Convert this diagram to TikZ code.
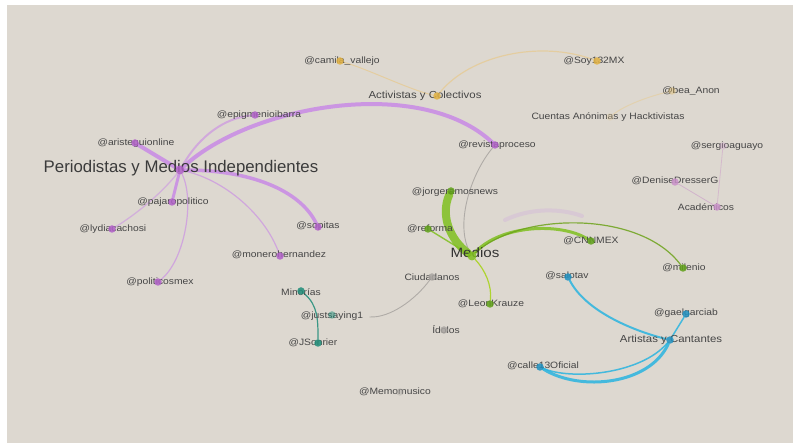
\documentclass[tikz,border=0pt]{standalone}
\usepackage{fontspec}
\setmainfont{Liberation Sans}
\newfontfamily\lblfont[FakeStretch=1.12]{Liberation Sans}
\usetikzlibrary{backgrounds}
\pgfdeclarelayer{edgelayer}
\pgfdeclarelayer{labellayer}
\pgfsetlayers{background,edgelayer,labellayer,main}
\definecolor{bg}{HTML}{DDD8D0}
\definecolor{txt}{HTML}{464646}
\definecolor{purp}{HTML}{C98AE6}
\definecolor{purpd}{HTML}{B060C8}
\definecolor{grn}{HTML}{80C020}
\definecolor{grnd}{HTML}{5FA018}
\definecolor{teal}{HTML}{1E8C78}
\definecolor{blu}{HTML}{2AB4E0}
\definecolor{blud}{HTML}{1E90C0}
\definecolor{org}{HTML}{E0B040}
\definecolor{tan}{HTML}{E6CC98}
\definecolor{pink}{HTML}{C890C8}
\definecolor{gry}{HTML}{A8A4A0}
\tikzset{
  lbl/.style={text=txt, inner sep=0pt, font=\lblfont\fontsize{9.2}{10}\selectfont},
  biglbl/.style={text=txt!85!black, inner sep=0pt, font=\fontsize{16.8}{19}\selectfont},
  medlbl/.style={text=txt, inner sep=0pt, font=\lblfont\fontsize{10.2}{12}\selectfont},
  dot/.style={circle, inner sep=0pt, minimum size=7.5pt, fill=#1, opacity=0.85},
  edge/.style={line cap=round, opacity=0.85},
}
\begin{document}
\begin{tikzpicture}[x=1pt,y=-1pt]
\useasboundingbox (0,0) rectangle (793,443);
\begin{pgfonlayer}{background}
\fill[white] (0,0) rectangle (793,443);
\fill[bg] (7,5) rectangle (793,443);
\end{pgfonlayer}

% ---------- dots (positions) ----------
\node[dot=purpd, minimum size=9pt] (peri) at (180,170) {};
\node[dot=purpd] (epig) at (255,115) {};
\node[dot=purpd] (aris) at (135,143) {};
\node[dot=purpd] (paja) at (172,202) {};
\node[dot=purpd] (lydi) at (112,229) {};
\node[dot=purpd] (poli) at (158,282) {};
\node[dot=purpd] (mone) at (280,256) {};
\node[dot=purpd] (sopi) at (318,227) {};
\node[dot=purpd] (proc) at (495,145) {};
\node[dot=pink] (deni) at (675,182) {};
\node[dot=pink] (acad) at (717,207) {};
\node[dot=pink, opacity=0.3] (serg) at (723,146) {};
\node[dot=org] (cami) at (340,61) {};
\node[dot=org] (acti) at (437,96) {};
\node[dot=org] (soy) at (597,61) {};
\node[dot=org, opacity=0.3] (bea) at (672,91) {};
\node[dot=tan, opacity=0.3] (cuen) at (610,117) {};
\node[dot=grn, minimum size=9pt] (medi) at (472,256) {};
\node[dot=grnd] (jorg) at (451,191) {};
\node[dot=grnd] (refo) at (428,229) {};
\node[dot=grnd] (cnn) at (591,241) {};
\node[dot=grnd] (mile) at (683,268) {};
\node[dot=grnd] (leon) at (490,304) {};
\node[dot=gry] (ciud) at (432,277) {};
\node[dot=gry] (idol) at (444,330) {};
\node[dot=gry, opacity=0.4] (memo) at (400,392) {};
\node[dot=teal] (mino) at (301,291) {};
\node[dot=teal, opacity=0.5] (just) at (332,315) {};
\node[dot=teal] (json) at (318,343) {};
\node[dot=blud] (sajo) at (568,277) {};
\node[dot=blud] (gael) at (686,314) {};
\node[dot=blud] (arti) at (670,340) {};
\node[dot=blud] (call) at (540,367) {};

% ---------- edges ----------
\begin{pgfonlayer}{edgelayer}
% purple
\draw[edge, purp, line width=4] (peri) .. controls (250,105) and (420,75) .. (proc);
\draw[edge, purp!70!bg, line width=2] (peri) .. controls (200,135) and (225,118) .. (epig);
\draw[edge, purp, line width=4] (aris) -- (peri);
\draw[edge, purp, line width=3] (peri) -- (paja);
\draw[edge, purp!60!bg, line width=1.3] (peri) .. controls (160,195) and (135,215) .. (lydi);
\draw[edge, purp!75!bg, line width=1.2] (peri) .. controls (195,200) and (185,260) .. (poli);
\draw[edge, purp!75!bg, line width=1.2] (peri) .. controls (225,180) and (265,215) .. (mone);
\draw[edge, purp, line width=3.5] (peri) .. controls (250,170) and (300,190) .. (sopi);
\draw[edge, pink!60!bg, line width=0.8] (deni) -- (acad);
\draw[edge, pink!50!bg, line width=0.8] (serg) -- (acad);
% orange
\draw[edge, tan, line width=1] (cami) .. controls (370,70) and (410,90) .. (acti);
\draw[edge, tan, line width=1.2] (acti) .. controls (470,55) and (540,40) .. (soy);
\draw[edge, tan!70!bg, line width=1] (bea) .. controls (650,96) and (625,105) .. (cuen);
% gray
\draw[edge, gry, line width=0.9] (proc) .. controls (470,175) and (455,225) .. (medi);
% green
\draw[edge, grn, line width=8] (jorg) .. controls (440,215) and (450,240) .. (medi);
\draw[edge, grn, line width=1.4] (refo) -- (medi);
\draw[edge, grn, line width=3] (medi) .. controls (500,225) and (560,222) .. (cnn);
\draw[edge, grn!85!black, line width=1.2] (medi) .. controls (520,212) and (640,210) .. (mile);
\draw[edge, grn!70!yellow, line width=1.2] (medi) .. controls (485,270) and (492,285) .. (leon);
\draw[edge, purp!22!bg, line width=4] (505,220) .. controls (530,208) and (560,208) .. (582,216);
% teal / gray
\draw[edge, teal, line width=1.2] (mino) .. controls (318,305) and (318,320) .. (json);
\draw[edge, gry, line width=0.9, shorten <=34pt] (just) .. controls (390,318) and (415,300) .. (ciud);
% blue
\draw[edge, blu, line width=2] (sajo) .. controls (585,310) and (630,330) .. (arti);
\draw[edge, blu, line width=1.5] (arti) -- (gael);
\draw[edge, blu, line width=3] (call) .. controls (580,392) and (650,385) .. (arti);
\draw[edge, blu, line width=1.5] (call) .. controls (570,380) and (640,375) .. (arti);
\end{pgfonlayer}

% ---------- labels ----------
\begin{pgfonlayer}{labellayer}
\node[biglbl] (Lperi) at (181,168) {Periodistas y Medios Independientes};
\node[lbl] (Lepig) at (259,115) {@epigmenioibarra};
\node[lbl] (Laris) at (136,143) {@aristeguionline};
\node[lbl] (Lpaja) at (173,202) {@pajaropolitico};
\node[lbl] (Llydi) at (113,229) {@lydiacachosi};
\node[lbl] (Lpoli) at (160,282) {@politicosmex};
\node[lbl] (Lmone) at (279,255) {@monerohernandez};
\node[lbl] (Lsopi) at (318,226) {@sopitas};
\node[lbl] (Lproc) at (497,145) {@revistaproceso};
\node[lbl] (Ldeni) at (675,181) {@DeniseDresserG};
\node[lbl] (Lacad) at (706,207) {Académicos};
\node[lbl] (Lserg) at (727,146) {@sergioaguayo};
\node[lbl] (Lcami) at (342,61) {@camila\_vallejo};
\node[medlbl] (Lacti) at (425,96) {Activistas y Colectivos};
\node[lbl] (Lsoy) at (594,61) {@Soy132MX};
\node[lbl] (Lbea) at (691,91) {@bea\_Anon};
\node[lbl] (Lcuen) at (608,117) {Cuentas Anónimas y Hacktivistas};
\node[lbl] (Ljorg) at (455,192) {@jorgeramosnews};
\node[lbl] (Lrefo) at (430,229) {@reforma};
\node[text=black!80, inner sep=0pt, font=\lblfont\fontsize{13.5}{15}\selectfont] (Lmedi) at (475,253) {Medios};
\node[lbl] (Lcnn) at (591,241) {@CNNMEX};
\node[lbl] (Lmile) at (684,268) {@milenio};
\node[lbl] (Lleon) at (491,304) {@LeonKrauze};
\node[lbl] (Lciud) at (432,277) {Ciudadanos};
\node[lbl] (Lidol) at (446,330) {Ídolos};
\node[lbl] (Lmemo) at (395,392) {@Memomusico};
\node[lbl] (Lmino) at (301,292) {Minorías};
\node[lbl] (Ljust) at (332,316) {@justsaying1};
\node[lbl] (Ljson) at (313,343) {@JSonrier};
\node[lbl] (Lsajo) at (567,276) {@salotav};
\node[lbl] (Lgael) at (686,313) {@gaelgarciab};
\node[medlbl] (Larti) at (671,340) {Artistas y Cantantes};
\node[lbl] (Lcall) at (543,366) {@calle13Oficial};
\end{pgfonlayer}
\end{tikzpicture}
\end{document}
